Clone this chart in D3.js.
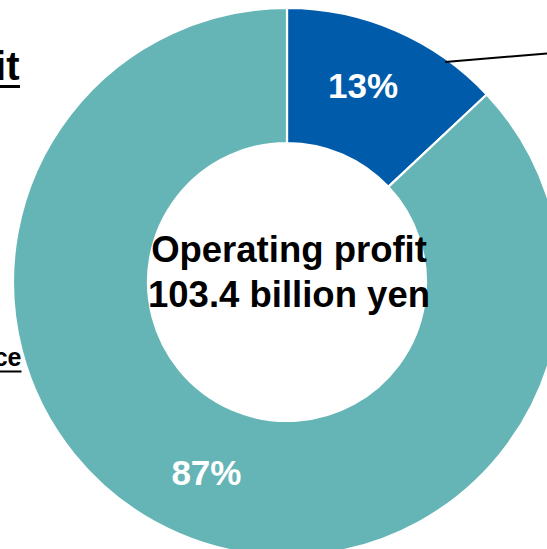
<!DOCTYPE html>
<html>
<head>
<meta charset="utf-8">
<script src="https://cdn.jsdelivr.net/npm/d3@7"></script>
<style>
  html, body { margin: 0; padding: 0; background: #fff; overflow: hidden; }
  svg { display: block; font-family: "Liberation Sans", Arial, sans-serif; }
</style>
</head>
<body>
<svg id="chart" width="547" height="549"></svg>
<script>
// Share of operating profit by segment (percent)
const segments = ["Segment A", "Segment B"];
const shares = [13, 87];
const sliceColors = ["#005BAB", "#66B5B6"];
const sliceLabels = ["13%", "87%"];
const centerLines = ["Operating profit", "103.4 billion yen"];
const sideLabels = ["it", "ce"];

const svg = d3.select("#chart");
const cx = 287, cy = 282;
const outerR = 274, innerR = 139;

const pie = d3.pie().sort(null).value(d => d.value);
const arcs = pie(segments.map((s, i) => ({ name: s, value: shares[i] })));
const arc = d3.arc().innerRadius(innerR).outerRadius(outerR);

const g = svg.append("g").attr("transform", `translate(${cx},${cy})`);

g.selectAll("path.slice")
  .data(arcs)
  .join("path")
  .attr("class", "slice")
  .attr("d", arc)
  .attr("fill", (d, i) => sliceColors[i])
  .attr("stroke", "#fff")
  .attr("stroke-width", 2.2)
  .attr("stroke-linejoin", "miter");

// Percent labels placed near each slice's mid-angle
const labelPos = [
  { r: 214, dx: -9, dy: 12 },
  { r: 208, dx: 2, dy: 12 }
];
g.selectAll("text.pct")
  .data(arcs)
  .join("text")
  .attr("class", "pct")
  .attr("x", (d, i) => {
    const a = (d.startAngle + d.endAngle) / 2;
    return Math.sin(a) * labelPos[i].r + labelPos[i].dx;
  })
  .attr("y", (d, i) => {
    const a = (d.startAngle + d.endAngle) / 2;
    return -Math.cos(a) * labelPos[i].r + labelPos[i].dy;
  })
  .attr("text-anchor", "middle")
  .attr("fill", "#fff")
  .attr("font-weight", "bold")
  .attr("font-size", 35)
  .text((d, i) => sliceLabels[i]);

// Centre caption
g.selectAll("text.center")
  .data(centerLines)
  .join("text")
  .attr("class", "center")
  .attr("x", 2)
  .attr("y", (d, i) => -20 + i * 45)
  .attr("text-anchor", "middle")
  .attr("fill", "#000")
  .attr("font-weight", "bold")
  .attr("font-size", 36.5)
  .text(d => d);

// Leader line from the small slice out to its callout
const smallArc = arcs[0];
const leadA = smallArc.startAngle + (smallArc.endAngle - smallArc.startAngle) * 0.763;
const lx0 = cx + Math.sin(leadA) * (outerR - 3);
const ly0 = cy - Math.cos(leadA) * (outerR - 3);
svg.append("line")
  .attr("x1", lx0).attr("y1", ly0)
  .attr("x2", 560).attr("y2", ly0 - 0.083 * (560 - lx0))
  .attr("stroke", "#000")
  .attr("stroke-width", 2);

// Underlined side captions at the left edge
const side = [
  { x: 19.5, y: 80, size: 40, uy: 85, uh: 3, uw: 20 },
  { x: 21.5, y: 366, size: 25, uy: 370.5, uh: 2, uw: 21.5 }
];
sideLabels.forEach((t, i) => {
  const s = side[i];
  svg.append("text")
    .attr("x", s.x).attr("y", s.y)
    .attr("text-anchor", "end")
    .attr("font-weight", "bold")
    .attr("font-size", s.size)
    .attr("fill", "#000")
    .text(t);
  svg.append("rect")
    .attr("x", 0).attr("y", s.uy)
    .attr("width", s.uw).attr("height", s.uh)
    .attr("fill", "#000");
});
</script>
</body>
</html>
